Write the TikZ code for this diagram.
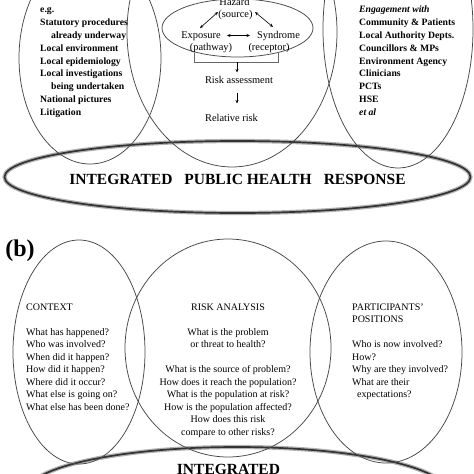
\documentclass[tikz,border=0pt]{standalone}
\usepackage{fontspec}
\setmainfont{Liberation Serif}
\usetikzlibrary{arrows.meta}
\begin{document}
\begin{tikzpicture}[x=1pt,y=-1pt,
  venn/.style={draw=black!72, line width=0.75pt},
  ringhalo/.style={draw=black!30, line width=4.2pt},
  ringcore/.style={draw=black!80, line width=1.7pt},
  arr/.style={-{Stealth[length=3.5pt,width=3pt]}, line width=0.6pt},
  darr/.style={{Stealth[length=3.5pt,width=3pt]}-{Stealth[length=3.5pt,width=3pt]}, line width=0.6pt},
  ta/.style={font=\fontsize{9.7}{12.85}\selectfont\bfseries, align=left, inner sep=0pt, anchor=north west},
  tm/.style={font=\fontsize{10.4}{12.5}\selectfont, inner sep=0pt, anchor=base},
  tb/.style={font=\fontsize{10}{12.5}\selectfont, inner sep=0pt},
  big/.style={font=\fontsize{15.5}{18}\selectfont\bfseries, inner sep=0pt, anchor=base},
]
\useasboundingbox (0,0) rectangle (474,474);
\fill[white] (0,0) rectangle (474,474);
\clip (0,0) rectangle (474,474);

% ---------- panel (a) ----------
\draw[ringhalo] (237.5,177) ellipse [x radius=233pt, y radius=36pt];
\draw[ringcore] (237.5,177) ellipse [x radius=233pt, y radius=36pt];
\draw[venn] (90,58) ellipse [x radius=71pt, y radius=106pt];
\draw[venn] (232,32) ellipse [x radius=105pt, y radius=135pt];
\draw[venn] (398,29) ellipse [x radius=75pt, y radius=139pt];
\draw[venn] (237.5,28) ellipse [x radius=75.5pt, y radius=29pt];

\node[ta] (lefta) at (40,3.5) {\strut e.g.\\Statutory procedures\\\hspace*{11pt}already underway\\Local environment\\Local epidemiology\\Local investigations\\\hspace*{11pt}being undertaken\\National pictures\\Litigation};

\node[ta] (righta) at (359,3.5) {\strut\textit{Engagement with}\\Community \& Patients\\Local Authority Depts.\\Councillors \& MPs\\Environment Agency\\Clinicians\\PCTs\\HSE\\\textit{et al}};

\node[tm] (hazard) at (234.5,5.5) {Hazard};
\node[tm] (source) at (235.5,17.5) {(source)};
\node[tm] (exposure) at (201,38) {Exposure};
\node[tm] (pathway) at (211,50.5) {(pathway)};
\node[tm] (syndrome) at (278.5,38) {Syndrome};
\node[tm] (receptor) at (269,50.5) {(receptor)};
\node[tm] (riskass) at (239,83) {Risk assessment};
\node[tm] (relrisk) at (231.5,121) {Relative risk};

\coordinate (hzL) at (218,12);  \coordinate (exT) at (200,28);
\coordinate (hzR) at (255,12);  \coordinate (syT) at (273,27);
\coordinate (exR) at (227,35.5); \coordinate (syL) at (250,35.5);
\draw[darr] (hzL) -- (exT);
\draw[darr] (hzR) -- (syT);
\draw[darr] (exR) -- (syL);

\draw[line width=0.6pt, draw=black!60] (194,53) |- (278,62) -- (278,53);
\coordinate (brk) at (237,62);   \coordinate (ra1) at (237,72.5);
\coordinate (ra2) at (237,92.5); \coordinate (rr1) at (237,103.5);
\draw[arr] (brk) -- (ra1);
\draw[arr] (ra2) -- (rr1);

\node[big] (iphr) at (237.5,184.2) {INTEGRATED\hspace{12pt}PUBLIC HEALTH\hspace{12pt}RESPONSE};

% ---------- panel (b) ----------
\node[font=\fontsize{24}{28}\selectfont\bfseries, inner sep=0pt, anchor=base] (lblb) at (20,256) {(b)};

\draw[ringhalo] (237,492) ellipse [x radius=210pt, y radius=45pt];
\draw[ringcore] (237,492) ellipse [x radius=210pt, y radius=45pt];
\draw[venn] (79,352) ellipse [x radius=66pt, y radius=112pt];
\draw[venn] (228,348) ellipse [x radius=103pt, y radius=109pt];
\draw[venn] (386,352) ellipse [x radius=76pt, y radius=111pt];

\node[tb, align=left, anchor=north west] (ctx) at (26,301.25) {\strut CONTEXT\\[12.5pt]What has happened?\\Who was involved?\\When did it happen?\\How did it happen?\\Where did it occur?\\What else is going on?\\What else has been done?};

\node[tb, align=center, anchor=north] (risk) at (228,301.25) {\strut RISK ANALYSIS\\[12.5pt]What is the problem\\or threat to health?\\[12.5pt]What is the source of problem?\\How does it reach the population?\\What is the population at risk?\\How is the population affected?\\How does this risk\\compare to other risks?};

\node[tb, align=left, anchor=north west] (part) at (352,301.25) {\strut PARTICIPANTS’\\POSITIONS\\[12.5pt]Who is now involved?\\How?\\Why are they involved?\\What are their\\\hspace*{5pt}expectations?};

\node[big] (integ) at (228.5,474.8) {INTEGRATED};
\end{tikzpicture}
\end{document}
